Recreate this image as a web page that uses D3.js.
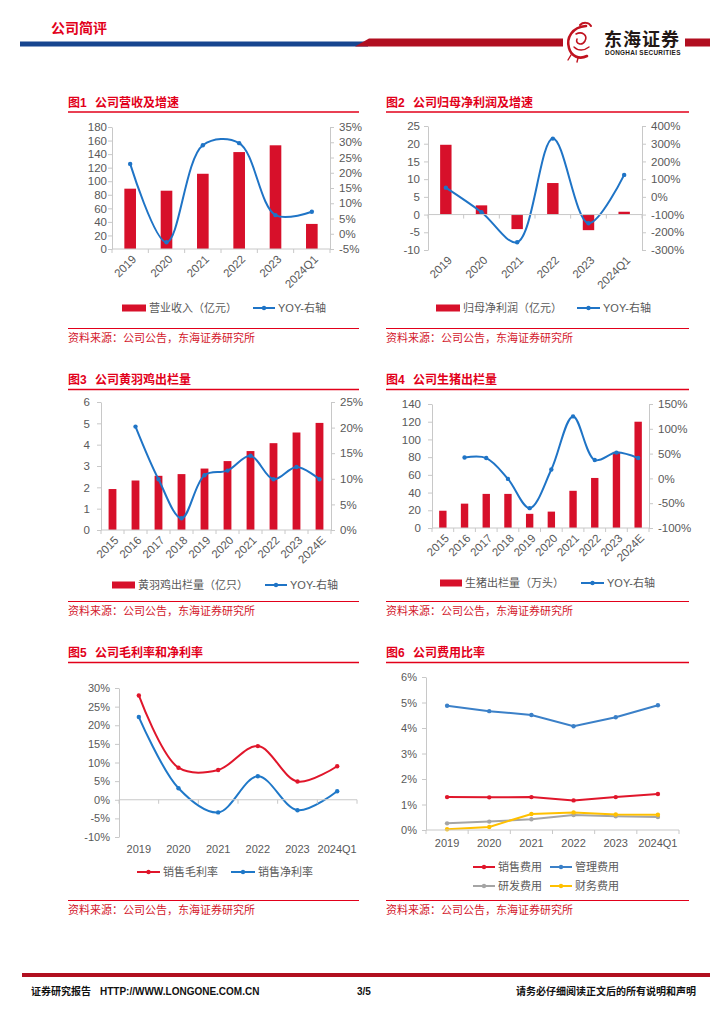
<!DOCTYPE html>
<html><head><meta charset="utf-8">
<script src="https://cdn.jsdelivr.net/npm/d3@7"></script>
<style>
body{margin:0;background:#fff}
svg text{font-family:"Liberation Sans",Arial,"Noto Sans CJK SC",sans-serif}
</style>
</head><body>
<svg id="c" width="724" height="1024"></svg>
<script>
// ---------------- DATA ----------------
const catsA = ["2019","2020","2021","2022","2023","2024Q1"];
const catsB = ["2015","2016","2017","2018","2019","2020","2021","2022","2023","2024E"];

// Fig1 营收(亿元) & YOY(%)
const revenue = [89, 86, 111, 143, 153, 37];
const revenueYoy = [22.9, -2.8, 29.0, 29.7, 6.1, 7.2];
const fig1LeftTicks = [0,20,40,60,80,100,120,140,160,180];
const fig1RightTicks = [-5,0,5,10,15,20,25,30,35];

// Fig2 归母净利润(亿元) & YOY(%)
const netProfit = [19.7, 2.6, -4.1, 8.9, -4.4, 0.8];
const netProfitYoy = [52, -87, -256, 329, -149, 124];
const fig2LeftTicks = [-10,-5,0,5,10,15,20,25];
const fig2RightTicks = [-300,-200,-100,0,100,200,300,400];

// Fig3 黄羽鸡出栏量(亿只) & YOY(%)
const chicken = [1.92, 2.32, 2.54, 2.62, 2.88, 3.23, 3.70, 4.07, 4.57, 5.02];
const chickenYoy = [null, 20.2, 9.9, 2.3, 10.7, 11.6, 14.5, 9.9, 12.3, 9.9];
const fig3LeftTicks = [0,1,2,3,4,5,6];
const fig3RightTicks = [0,5,10,15,20,25];

// Fig4 生猪出栏量(万头) & YOY(%)
const pigs = [19.5, 27.5, 38.5, 38.5, 16, 18.5, 42, 56.5, 86, 120];
const pigsYoy = [null, 42, 41, -1, -60, 18, 125, 37, 52, 41];
const fig4LeftTicks = [0,20,40,60,80,100,120,140];
const fig4RightTicks = [-100,-50,0,50,100,150];

// Fig5 毛利率/净利率(%)
const grossMargin = [28.0, 8.6, 8.0, 14.4, 4.9, 9.0];
const netMargin = [22.2, 3.1, -3.4, 6.3, -2.8, 2.3];
const fig5Ticks = [-10,-5,0,5,10,15,20,25,30];

// Fig6 费用比率(%)
const sellingExp = [1.29, 1.28, 1.29, 1.16, 1.29, 1.41];
const adminExp = [4.87, 4.66, 4.51, 4.07, 4.42, 4.89];
const rdExp = [0.26, 0.33, 0.42, 0.59, 0.54, 0.51];
const finExp = [0.03, 0.12, 0.63, 0.69, 0.61, 0.60];
const fig6Ticks = [0,1,2,3,4,5,6];

// ---------------- STYLE ----------------
const svg = d3.select("#c");
const BAR = "#d7102a", BLUE = "#1f74c6", AX = "#c8c8c8", TXT = "#595959", TITLE = "#e2001a";
const SRC = "资料来源：公司公告，东海证券研究所";

// ---------------- HEADER ----------------
svg.append("text").attr("x",51).attr("y",28).attr("dy","0.35em").attr("fill",TITLE)
  .attr("font-size",14).attr("font-weight","bold").text("公司简评");
svg.append("rect").attr("x",20).attr("y",41.5).attr("width",348).attr("height",5).attr("fill","#17458f");
svg.append("polygon").attr("points","355,46.5 369,38.5 563,38.5 563,46.5").attr("fill","#b10f20");
svg.append("rect").attr("x",685).attr("y",38.5).attr("width",25).attr("height",8).attr("fill","#b10f20");
// logo swirl
const lg = svg.append("g").attr("fill","none").attr("stroke","#c0121f").attr("stroke-linecap","round");
lg.append("path").attr("d","M586,26 C572,27 566,38 569,48 C571,56 579,60 587,56").attr("stroke-width",2.6);
lg.append("path").attr("d","M580,25 C583,22 589,22 591,26").attr("stroke-width",2);
lg.append("path").attr("d","M576,34 C582,31 588,35 585,41 C582,46 575,44 577,39").attr("stroke-width",1.6);
lg.append("path").attr("d","M574,47 C578,51 584,51 589,47").attr("stroke-width",1.4);
lg.append("path").attr("d","M571,55 L568,60 M578,58 L577,62").attr("stroke-width",1.4);
svg.append("text").attr("x",604).attr("y",40).attr("dy","0.35em").attr("font-size",18)
  .attr("font-weight","bold").attr("fill","#231815").attr("letter-spacing",1).text("东海证券");
svg.append("text").attr("x",605).attr("y",53).attr("dy","0.35em").attr("font-size",6.4)
  .attr("font-weight","bold").attr("fill","#231815").attr("letter-spacing",0.3).text("DONGHAI SECURITIES");

// ---------------- FOOTER ----------------
svg.append("line").attr("x1",22).attr("x2",710).attr("y1",975).attr("y2",975).attr("stroke","#b10f20").attr("stroke-width",4);
const ft = (x,t,anchor)=>svg.append("text").attr("x",x).attr("y",991).attr("dy","0.35em")
  .attr("font-size",10).attr("font-weight","bold").attr("fill","#111").attr("text-anchor",anchor||"start").text(t);
ft(31,"证券研究报告"); ft(100,"HTTP://WWW.LONGONE.COM.CN"); ft(357,"3/5");
ft(696,"请务必仔细阅读正文后的所有说明和声明","end");

// ---------------- HELPERS ----------------
function frame(x0, x1, titleY, num, title, srcY) {
  svg.append("text").attr("x",x0).attr("y",titleY).attr("dy","0.35em").attr("fill",TITLE)
    .attr("font-size",12).attr("font-weight","bold").text("图"+num);
  svg.append("text").attr("x",x0+27).attr("y",titleY).attr("dy","0.35em").attr("fill",TITLE)
    .attr("font-size",12).attr("font-weight","bold").text(title);
  svg.append("line").attr("x1",x0).attr("x2",x1).attr("y1",titleY+9.5).attr("y2",titleY+9.5)
    .attr("stroke",TITLE).attr("stroke-width",1.4);
  svg.append("line").attr("x1",x0).attr("x2",x1).attr("y1",srcY-9.5).attr("y2",srcY-9.5)
    .attr("stroke",TITLE).attr("stroke-width",1.1);
  svg.append("text").attr("x",x0).attr("y",srcY).attr("dy","0.35em").attr("fill","#d3172b")
    .attr("font-size",11).text(SRC);
}
function styleAxis(sel, fs) {
  sel.select(".domain").attr("stroke",AX);
  sel.selectAll(".tick line").attr("stroke",AX);
  sel.selectAll(".tick text").attr("fill",TXT).attr("font-size",fs||11)
    .style("font-family",'"Liberation Sans",Arial,sans-serif');
}
function legRect(x1,x2,y,t){
  svg.append("rect").attr("x",x1).attr("y",y-3.5).attr("width",x2-x1).attr("height",7).attr("fill",BAR);
  svg.append("text").attr("x",x2+3).attr("y",y).attr("dy","0.35em").attr("font-size",11).attr("fill",TXT).text(t);
}
function legLine(x1,x2,y,t,col){
  svg.append("line").attr("x1",x1).attr("x2",x2).attr("y1",y).attr("y2",y).attr("stroke",col).attr("stroke-width",2);
  svg.append("circle").attr("cx",(x1+x2)/2).attr("cy",y).attr("r",2.2).attr("fill",col);
  svg.append("text").attr("x",x2+3).attr("y",y).attr("dy","0.35em").attr("font-size",11).attr("fill",TXT).text(t);
}
function catTicks(x, n, y) {
  const step = x.step();
  svg.append("line").attr("x1",x.range()[0]).attr("x2",x.range()[1]).attr("y1",y).attr("y2",y).attr("stroke",AX);
  svg.append("g").selectAll("line").data(d3.range(n+1)).join("line")
    .attr("x1",i=>x.range()[0]+i*step).attr("x2",i=>x.range()[0]+i*step)
    .attr("y1",y).attr("y2",y+4).attr("stroke",AX);
}

function combo(o) {
  const g = svg.append("g");
  const x = d3.scaleBand().domain(o.cats).range([o.x0,o.x1]).paddingInner(o.pad).paddingOuter(o.pad/2);
  const yL = d3.scaleLinear().domain(o.lDom).range([o.yBot,o.yTop]);
  const yR = d3.scaleLinear().domain(o.rDom).range([o.yBot,o.yTop]);
  styleAxis(g.append("g").attr("transform",`translate(${o.x0},0)`)
    .call(d3.axisLeft(yL).tickValues(o.lTicks).tickFormat(d=>String(d)).tickSize(4).tickSizeOuter(0).tickPadding(o.lPad)), 11.5);
  styleAxis(g.append("g").attr("transform",`translate(${o.x1},0)`)
    .call(d3.axisRight(yR).tickValues(o.rTicks).tickFormat(d=>d+"%").tickSize(4).tickSizeOuter(0).tickPadding(5)), 11.5);
  catTicks(x, o.cats.length, yL(0));
  const cx = c => x(c) + x.bandwidth()/2;
  g.append("g").selectAll("rect").data(o.bars).join("rect")
    .attr("x",(d,i)=>x(o.cats[i])).attr("width",x.bandwidth())
    .attr("y",d=>yL(Math.max(0,d))).attr("height",d=>Math.abs(yL(d)-yL(0))).attr("fill",BAR);
  const pts = o.cats.map((c,i)=>({c, v:o.line[i]})).filter(d=>d.v!=null);
  g.append("path").datum(pts).attr("fill","none").attr("stroke",BLUE).attr("stroke-width",2)
    .attr("d",d3.line().x(d=>cx(d.c)).y(d=>yR(d.v)).curve(d3.curveCatmullRom.alpha(0.5)));
  g.append("g").selectAll("circle").data(pts).join("circle")
    .attr("cx",d=>cx(d.c)).attr("cy",d=>yR(d.v)).attr("r",2.2).attr("fill",BLUE);
  g.append("g").selectAll("text").data(o.cats).join("text")
    .attr("transform",c=>`translate(${cx(c)+4},${o.yBot+8}) rotate(-45)`)
    .attr("text-anchor","end").attr("dy","0.35em").attr("font-size",11.5).attr("fill",TXT).text(c=>c);
}

function lines(o) {
  const g = svg.append("g");
  const x = d3.scaleBand().domain(o.cats).range([o.x0,o.x1]);
  const y = d3.scaleLinear().domain(o.dom).range([o.yBot,o.yTop]);
  styleAxis(g.append("g").attr("transform",`translate(${o.x0},0)`)
    .call(d3.axisLeft(y).tickValues(o.ticks).tickFormat(d=>d+"%").tickSize(4).tickSizeOuter(0).tickPadding(5)));
  catTicks(x, o.cats.length, y(0));
  const cx = c => x(c) + x.bandwidth()/2;
  o.series.forEach(s=>{
    const pts = o.cats.map((c,i)=>({c, v:s.values[i]}));
    g.append("path").datum(pts).attr("fill","none").attr("stroke",s.color).attr("stroke-width",2)
      .attr("d",d3.line().x(d=>cx(d.c)).y(d=>y(d.v)).curve(o.curve));
    g.append("g").selectAll("circle").data(pts).join("circle")
      .attr("cx",d=>cx(d.c)).attr("cy",d=>y(d.v)).attr("r",2.2).attr("fill",s.color);
  });
  g.append("g").selectAll("text").data(o.cats).join("text")
    .attr("x",cx).attr("y",o.labelY).attr("dy","0.35em").attr("text-anchor","middle")
    .attr("font-size",11).attr("fill",TXT).text(c=>c);
}

// ---------------- PANELS ----------------
frame(68, 359, 102.5, 1, "公司营收及增速", 338);
combo({cats:catsA, bars:revenue, line:revenueYoy, x0:112, x1:330, yTop:127, yBot:249,
  lDom:[0,180], lTicks:fig1LeftTicks, rDom:[-5,35], rTicks:fig1RightTicks, pad:0.68, lPad:1});
legRect(122,146,308,"营业收入（亿元）");
legLine(253,275,308,"YOY-右轴",BLUE);

frame(386, 689, 102.5, 2, "公司归母净利润及增速", 338);
combo({cats:catsA, bars:netProfit, line:netProfitYoy, x0:428, x1:642, yTop:126, yBot:250,
  lDom:[-10,25], lTicks:fig2LeftTicks, rDom:[-300,400], rTicks:fig2RightTicks, pad:0.68, lPad:4});
legRect(436,460,308,"归母净利润（亿元）");
legLine(577,600,308,"YOY-右轴",BLUE);

frame(68, 359, 380, 3, "公司黄羽鸡出栏量", 611);
combo({cats:catsB, bars:chicken, line:chickenYoy, x0:101, x1:331, yTop:402, yBot:530,
  lDom:[0,6], lTicks:fig3LeftTicks, rDom:[0,25], rTicks:fig3RightTicks, pad:0.66, lPad:7});
legRect(112,135,585,"黄羽鸡出栏量（亿只）");
legLine(265,287,585,"YOY-右轴",BLUE);

frame(386, 689, 380, 4, "公司生猪出栏量", 611);
combo({cats:catsB, bars:pigs, line:pigsYoy, x0:432, x1:649, yTop:404, yBot:528,
  lDom:[0,140], lTicks:fig4LeftTicks, rDom:[-100,150], rTicks:fig4RightTicks, pad:0.66, lPad:7});
legRect(440,462,583,"生猪出栏量（万头）");
legLine(581,604,583,"YOY-右轴",BLUE);

frame(68, 359, 653, 5, "公司毛利率和净利率", 910);
lines({cats:catsA, x0:119, x1:357, yTop:688, yBot:837, dom:[-10,30], ticks:fig5Ticks, labelY:849.5,
  curve:d3.curveCatmullRom.alpha(0.5),
  series:[{values:grossMargin, color:"#e0162b"},{values:netMargin, color:"#1f78c8"}]});
legLine(137,160,872,"销售毛利率","#e0162b");
legLine(231,255,872,"销售净利率","#1f78c8");

frame(386, 689, 653, 6, "公司费用比率", 910);
lines({cats:catsA, x0:426, x1:679, yTop:677, yBot:830, dom:[0,6], ticks:fig6Ticks, labelY:843.5,
  curve:d3.curveLinear,
  series:[{values:sellingExp, color:"#e0162b"},{values:adminExp, color:"#3b80c8"},
          {values:rdExp, color:"#a5a5a5"},{values:finExp, color:"#ffc000"}]});
legLine(473,495,867,"销售费用","#e0162b");
legLine(550,572,867,"管理费用","#3b80c8");
legLine(473,495,886,"研发费用","#a5a5a5");
legLine(550,572,886,"财务费用","#ffc000");
</script>
</body></html>
